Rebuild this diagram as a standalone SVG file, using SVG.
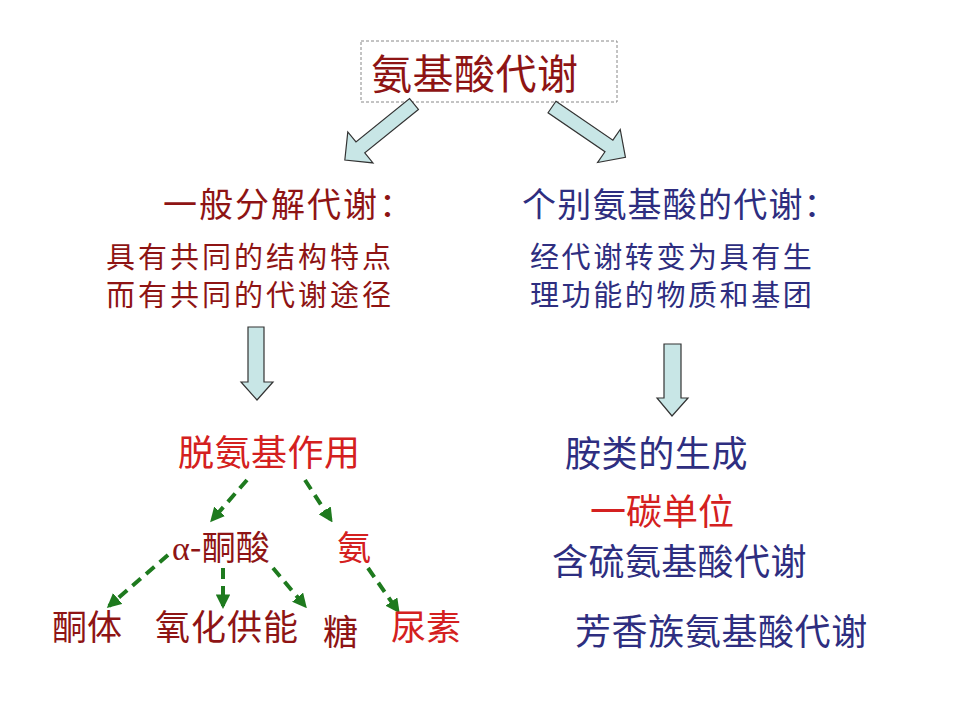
<svg xmlns="http://www.w3.org/2000/svg" width="960" height="720" viewBox="0 0 960 720">
<defs>
<style>
text{font-family:"Noto Sans CJK SC","Noto Sans",sans-serif;}
.dr{fill:#8E1414;}
.rd{fill:#D42020;}
.bl{fill:#2E2E80;}
.blk{fill:#C8E6E6;stroke:#333;stroke-width:1.2;stroke-linejoin:miter;}
.g{stroke:#1E7A1E;stroke-width:4;stroke-dasharray:11 7;fill:none;marker-end:url(#ah);}
</style>
<marker id="ah" viewBox="0 0 10 10" refX="8" refY="5" markerWidth="3.6" markerHeight="3.6" orient="auto" markerUnits="strokeWidth">
<path d="M0,0 L10,5 L0,10 z" fill="#1E7A1E"/>
</marker>
</defs>
<rect width="960" height="720" fill="#fff"/>

<g id="title">
<rect x="361" y="41" width="256" height="61" fill="none" stroke="#888" stroke-width="1" stroke-dasharray="3 2"/>
<text x="371" y="89" font-size="41" letter-spacing="0.5" class="dr">氨基酸代谢</text>
</g>

<g id="connectors">
<polygon class="blk" points="0,-7 69,-7 69,-20 89,0 69,20 69,7 0,7" transform="translate(414,104) rotate(141)"/>
<polygon class="blk" points="0,-7 69,-7 69,-20 89,0 69,20 69,7 0,7" transform="translate(552,107) rotate(34.4)"/>
<polygon class="blk" points="248,327 264,327 264,382 273,382 257,400 241,382 248,382"/>
<polygon class="blk" points="664,344 681,344 681,398 688,398 672,416 657,398 664,398"/>
<line class="g" x1="247" y1="480" x2="212" y2="520"/>
<line class="g" x1="305" y1="480" x2="331" y2="520"/>
<line class="g" x1="168" y1="555" x2="109" y2="606"/>
<line class="g" x1="223" y1="568" x2="223" y2="606"/>
<line class="g" x1="273" y1="568" x2="305" y2="606"/>
<line class="g" x1="368" y1="568" x2="398" y2="611"/>
</g>

<g id="general">
<text x="163" y="217" font-size="34" letter-spacing="2" class="dr">一般分解代谢：</text>
<text x="106" y="268" font-size="29" letter-spacing="3" class="dr">具有共同的结构特点</text>
<text x="106" y="306" font-size="29" letter-spacing="3" class="dr">而有共同的代谢途径</text>
</g>

<g id="individual">
<text x="522" y="217" font-size="34" letter-spacing="1.2" class="bl">个别氨基酸的代谢：</text>
<text x="530" y="268" font-size="29" letter-spacing="2.6" class="bl">经代谢转变为具有生</text>
<text x="530" y="306" font-size="29" letter-spacing="2.6" class="bl">理功能的物质和基团</text>
</g>

<g id="deamination">
<text x="178" y="466" font-size="36" letter-spacing="0.5" class="rd">脱氨基作用</text>
</g>
<g id="ketoacid">
<text x="172" y="560" font-size="34" class="dr"><tspan font-family="'Liberation Serif',serif">α</tspan>-酮酸</text>
</g>
<g id="ammonia">
<text x="337" y="560" font-size="34" class="rd">氨</text>
</g>
<g id="ketone">
<text x="52" y="640" font-size="35" class="dr">酮体</text>
</g>
<g id="oxidation">
<text x="155" y="640" font-size="35" letter-spacing="1" class="dr">氧化供能</text>
</g>
<g id="sugar">
<text x="323" y="645" font-size="35" class="dr">糖</text>
</g>
<g id="urea">
<text x="391" y="640" font-size="35" class="rd">尿素</text>
</g>

<g id="amines">
<text x="565" y="467" font-size="36" letter-spacing="0.6" class="bl">胺类的生成</text>
</g>
<g id="onecarbon">
<text x="590" y="525" font-size="36" class="rd">一碳单位</text>
</g>
<g id="sulfur">
<text x="552" y="575" font-size="36" letter-spacing="0.4" class="bl">含硫氨基酸代谢</text>
</g>
<g id="aromatic">
<text x="575" y="645" font-size="36" letter-spacing="0.6" class="bl">芳香族氨基酸代谢</text>
</g>
</svg>
